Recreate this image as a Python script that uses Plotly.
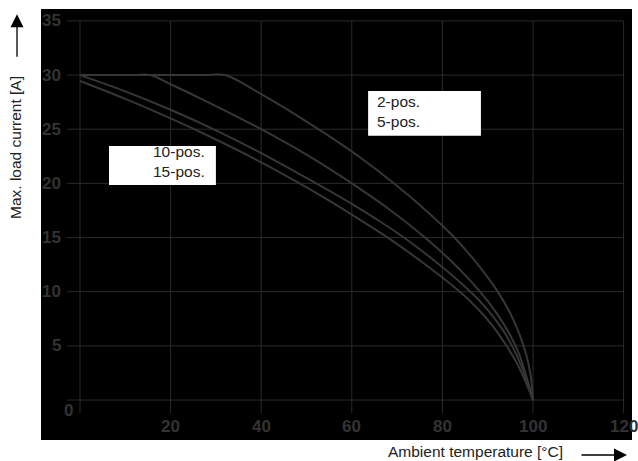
import plotly.graph_objects as go

# derating curves (ambient temperature in degC, max load current in A)
temp_2pos = [0, 28, 32, 40, 48, 56, 62, 69.2, 75, 82.1, 87, 92.1, 95, 97, 98.5, 99.5, 100]
curr_2pos = [30, 30, 30, 28.24, 26.24, 24.08, 22.34, 20.04, 18.01, 15.24, 12.94, 10.08, 7.99, 6.09, 4.2, 2.2, 0]

temp_5pos = [0, 12, 15.5, 20, 28, 40, 50, 60, 68, 76.4, 83, 88.4, 92, 95, 97, 98.7, 100]
curr_5pos = [30, 30, 30, 29.15, 27.55, 25.0, 22.65, 20.0, 17.68, 14.91, 12.4, 9.97, 8.0, 5.96, 4.16, 1.95, 0]

temp_10pos = [0, 10, 20, 30, 40, 50, 60, 66, 71.5, 79, 86.2, 90, 93, 95.2, 97.5, 99, 100]
curr_10pos = [30, 28.5, 26.8, 24.9, 22.8, 20.5, 18.1, 16.54, 15.0, 12.6, 10.0, 8.33, 6.68, 5.14, 3.07, 1.27, 0]

temp_15pos = [0, 10, 20, 30, 40, 48, 55, 62, 68.5, 76, 84, 88, 91, 94, 96.5, 98.5, 100]
curr_15pos = [29.45, 27.8, 26.0, 24.05, 21.95, 20.11, 18.4, 16.58, 14.83, 12.58, 9.94, 8.34, 6.9, 5.1, 3.35, 1.55, 0]

x_ticks = [0, 20, 40, 60, 80, 100, 120]
y_ticks = [0, 5, 10, 15, 20, 25, 30, 35]

GRID = "#2b2b2b"
CURVE = "#363636"
TICK = "#333333"
TEXT = "#222222"

fig = go.Figure()

# grid lines (stop short of the plot edges like the original)
gx, gy = [], []
for v in y_ticks:
    gx += [-2.87, 120, None]
    gy += [v, v, None]
for v in x_ticks:
    gx += [v, v, None]
    gy += [-1.2, 35, None]
fig.add_trace(go.Scatter(x=gx, y=gy, mode="lines", line=dict(color=GRID, width=1),
                         hoverinfo="skip", showlegend=False))

for xs, ys, name in [(temp_15pos, curr_15pos, "15-pos."), (temp_10pos, curr_10pos, "10-pos."),
                     (temp_5pos, curr_5pos, "5-pos."), (temp_2pos, curr_2pos, "2-pos.")]:
    fig.add_trace(go.Scatter(x=xs, y=ys, mode="lines", name=name,
                             line=dict(color=CURVE, width=2, shape="spline", smoothing=1.0),
                             showlegend=False))

tick_font = dict(family="Liberation Sans", size=17, color=TICK, weight="bold")
for v in y_ticks[1:]:
    fig.add_annotation(x=-3.76, y=v, text=str(v), showarrow=False, xanchor="right",
                       yanchor="middle", font=tick_font)
for v in x_ticks[1:]:
    fig.add_annotation(x=v, y=-2.4, text=str(v), showarrow=False, xanchor="center",
                       yanchor="middle", font=tick_font)
fig.add_annotation(x=-2.65, y=-0.92, text="0", showarrow=False, xanchor="center",
                   yanchor="middle", font=tick_font)

# white label boxes
fig.add_shape(type="rect", x0=6.4, x1=30.0, y0=19.85, y1=23.45,
              fillcolor="white", line_width=0, layer="above")
fig.add_shape(type="rect", x0=63.6, x1=88.5, y0=24.4, y1=28.53,
              fillcolor="white", line_width=0, layer="above")

lab_font = dict(family="Liberation Sans", size=15.5, color=TEXT)
fig.add_annotation(x=28.0, y=22.02, text="10-pos.<br>15-pos.", showarrow=False,
                   xanchor="right", yanchor="middle", align="right", font=lab_font)
fig.add_annotation(x=65.1, y=26.62, text="2-pos.<br>5-pos.", showarrow=False,
                   xanchor="left", yanchor="middle", align="left", font=lab_font)

# axis titles with arrows
fig.add_annotation(xref="paper", yref="paper", x=-0.0423, y=0.6775,
                   text="Max. load current [A]", textangle=-90, showarrow=False,
                   xanchor="center", yanchor="middle", font=lab_font)
fig.add_annotation(xref="paper", yref="paper", x=0.736, y=-0.0278,
                   text="Ambient temperature [°C]", showarrow=False,
                   xanchor="center", yanchor="middle", font=lab_font)
fig.add_annotation(xref="paper", yref="paper", x=-0.0406, y=0.988, ax=0, ay=44,
                   text="", showarrow=True, arrowhead=2, arrowsize=2, arrowwidth=1.3,
                   arrowcolor="black")
fig.add_annotation(xref="paper", yref="paper", x=0.9915, y=-0.0348, ax=-47, ay=0,
                   text="", showarrow=True, arrowhead=2, arrowsize=2, arrowwidth=1.3,
                   arrowcolor="black")

fig.update_xaxes(range=[-8.61, 121.85], showgrid=False, zeroline=False,
                 showticklabels=False, ticks="", showline=False)
fig.update_yaxes(range=[-3.69, 36.1], showgrid=False, zeroline=False,
                 showticklabels=False, ticks="", showline=False)
fig.update_layout(width=638, height=461, margin=dict(l=41, r=6, t=9, b=21),
                  plot_bgcolor="black", paper_bgcolor="white", showlegend=False)

fig.write_html("out.html", config={"displayModeBar": False},
               post_script="document.body.style.margin='0';")
